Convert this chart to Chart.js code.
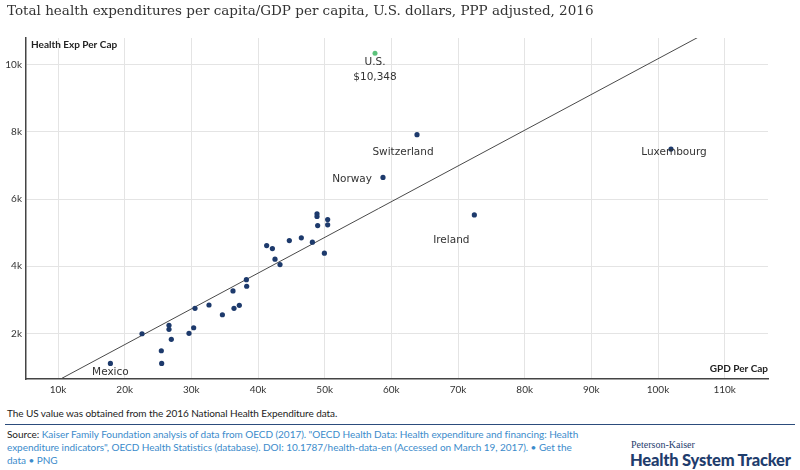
<!DOCTYPE html>
<html>
<head>
<meta charset="utf-8">
<script src="https://cdn.jsdelivr.net/npm/chart.js@4"></script>
<style>
  html, body { margin: 0; padding: 0; background: #fff; }
  body { width: 800px; height: 470px; position: relative; overflow: hidden; font-family: Lato, sans-serif; }
  #title { position: absolute; left: 7px; top: 2px; font-family: "DejaVu Serif", serif; font-size: 13.5px; color: #333; white-space: nowrap; z-index: 2; }
  #wrap { position: absolute; left: 0; top: 0; width: 800px; height: 400px; }
  #note { position: absolute; left: 7px; top: 407px; font-size: 10px; letter-spacing: -0.07px; color: #222; white-space: nowrap; }
  #rule { position: absolute; left: 5px; top: 424px; width: 790px; height: 0; border-top: 1.5px solid #2c4c7c; }
  #source { position: absolute; left: 7px; top: 428px; font-size: 10px; letter-spacing: -0.04px; line-height: 13px; color: #3b8bcb; white-space: nowrap; }
  #source b { font-weight: normal; color: #222; }
  #logo1 { position: absolute; left: 631px; top: 439px; font-family: "Liberation Serif", serif; font-size: 10px; color: #1f3d6d; }
  #logo2 { position: absolute; left: 630px; top: 450px; font-family: Lato, sans-serif; font-weight: 900; font-size: 16.5px; color: #1f3d6d; white-space: nowrap; letter-spacing: -0.2px; }
</style>
</head>
<body>
<div id="title">Total health expenditures per capita/GDP per capita, U.S. dollars, PPP adjusted, 2016</div>
<div id="wrap"><canvas id="chart"></canvas></div>
<div id="note">The US value was obtained from the 2016 National Health Expenditure data.</div>
<div id="rule"></div>
<div id="source"><b>Source:</b> Kaiser Family Foundation analysis of data from OECD (2017). "OECD Health Data: Health expenditure and financing: Health<br>expenditure indicators", OECD Health Statistics (database). DOI: 10.1787/health-data-en (Accessed on March 19, 2017). • Get the<br>data • PNG</div>
<div id="logo1">Peterson-Kaiser</div>
<div id="logo2">Health System Tracker</div>
<script>
// OECD countries (US shown separately)
const countryNames = ['Mexico', '', '', '', '', '', '', '', '', '', '', '', '', '', '', '', '',
  '', '', '', '', '', '', '', '', '', '', '', '', '', 'Norway', 'Switzerland', 'Ireland', 'Luxembourg'];
const gdpPerCap = [17860, 22600, 25500, 25550, 26650, 26650, 27000, 29650, 30350, 30550, 32650, 34660,
  36250, 36400, 37200, 38260, 38300, 41300, 42160, 42550, 43300, 44700, 46500, 48160, 48850, 48850,
  48950, 49960, 50450, 50450, 58750, 63850, 72450, 101950];
const healthExpPerCap = [1104, 1988, 1481, 1104, 2239, 2119, 1821, 2000, 2167, 2746, 2845, 2555,
  3263, 2746, 2836, 3600, 3403, 4615, 4525, 4209, 4048, 4764, 4845, 4716, 5561, 5481,
  5212, 4388, 5391, 5233, 6645, 7920, 5530, 7490];

const usName = 'U.S.';
const usGdp = 57550;
const usHealthExp = 10348;

const xTicks = [10000, 20000, 30000, 40000, 50000, 60000, 70000, 80000, 90000, 100000, 110000];
const yTicks = [2000, 4000, 6000, 8000, 10000];
const xMin = 5200, xMax = 116500;
const yMin = 640, yMax = 10800;

// least squares fit over every country incl. the US
function fitLine(xs, ys) {
    const n = xs.length;
    const mx = xs.reduce((a, b) => a + b, 0) / n;
    const my = ys.reduce((a, b) => a + b, 0) / n;
    let sxy = 0, sxx = 0;
    for (let i = 0; i < n; i++) {
        sxy += (xs[i] - mx) * (ys[i] - my);
        sxx += (xs[i] - mx) * (xs[i] - mx);
    }
    const slope = sxy / sxx;
    return { slope, intercept: my - slope * mx };
}
const fit = fitLine(gdpPerCap.concat([usGdp]), healthExpPerCap.concat([usHealthExp]));

// label placement relative to the dot, in pixels
const labelStyle = {
    'Mexico': { dx: 0, dy: 9, align: 'center' },
    'Norway': { dx: -11, dy: 2, align: 'right' },
    'Switzerland': { dx: -14, dy: 18, align: 'center' },
    'Ireland': { dx: -23, dy: 25, align: 'center' },
    'Luxembourg': { dx: 3, dy: 3, align: 'center' }
};

const pointLabels = {
    id: 'pointLabels',
    afterDatasetsDraw(chart) {
        const { ctx, scales: { x, y }, chartArea } = chart;
        ctx.save();
        ctx.font = '10.5px "DejaVu Sans", sans-serif';
        ctx.fillStyle = '#333';
        ctx.textBaseline = 'middle';
        countryNames.forEach((name, i) => {
            if (!name) return;
            const s = labelStyle[name];
            ctx.textAlign = s.align;
            ctx.fillText(name, x.getPixelForValue(gdpPerCap[i]) + s.dx, y.getPixelForValue(healthExpPerCap[i]) + s.dy);
        });
        const ux = x.getPixelForValue(usGdp), uy = y.getPixelForValue(usHealthExp);
        ctx.textAlign = 'center';
        ctx.fillText(usName, ux, uy + 9);
        ctx.fillText('$' + usHealthExp.toLocaleString('en-US'), ux, uy + 24);

        // axis titles
        ctx.font = 'bold 10px Lato, sans-serif';
        ctx.fillStyle = '#222';
        ctx.textAlign = 'left';
        ctx.fillText('Health Exp Per Cap', chartArea.left + 5, chartArea.top + 7);
        ctx.textAlign = 'right';
        ctx.fillText('GPD Per Cap', chartArea.right, chartArea.bottom - 10);
        ctx.restore();
    }
};

new Chart(document.getElementById('chart'), {
    type: 'scatter',
    data: {
        datasets: [
            {
                data: gdpPerCap.map((v, i) => ({ x: v, y: healthExpPerCap[i] })),
                backgroundColor: '#1d3a6c',
                borderWidth: 0,
                pointRadius: 2.6
            },
            {
                data: [{ x: usGdp, y: usHealthExp }],
                backgroundColor: '#5cc27b',
                borderWidth: 0,
                pointRadius: 2.5
            },
            {
                type: 'line',
                data: [xMin, xMax].map(v => ({ x: v, y: fit.slope * v + fit.intercept })),
                borderColor: '#4a4a4a',
                borderWidth: 1,
                pointRadius: 0,
                fill: false
            }
        ]
    },
    options: {
        responsive: true,
        maintainAspectRatio: false,
        animation: false,
        layout: { padding: { top: 38, right: 32, left: 0, bottom: 0 } },
        plugins: { legend: { display: false }, tooltip: { enabled: false } },
        scales: {
            x: {
                type: 'linear',
                min: xMin,
                max: xMax,
                afterBuildTicks: s => { s.ticks = xTicks.map(v => ({ value: v })); },
                afterFit: s => { s.height = 21; },
                grid: { color: '#e4e4e4', drawTicks: false },
                border: { color: '#444', width: 1.5 },
                ticks: {
                    padding: 5,
                    color: '#333',
                    font: { family: 'Lato', size: 10 },
                    callback: v => (v / 1000) + 'k'
                }
            },
            y: {
                type: 'linear',
                min: yMin,
                max: yMax,
                afterBuildTicks: s => { s.ticks = yTicks.map(v => ({ value: v })); },
                afterFit: s => { s.width = 26; },
                grid: { color: '#e4e4e4', drawTicks: false },
                border: { color: '#444', width: 1.5 },
                ticks: {
                    padding: 4,
                    color: '#333',
                    font: { family: 'Lato', size: 10 },
                    callback: v => (v / 1000) + 'k'
                }
            }
        }
    },
    plugins: [pointLabels]
});
</script>
</body>
</html>
